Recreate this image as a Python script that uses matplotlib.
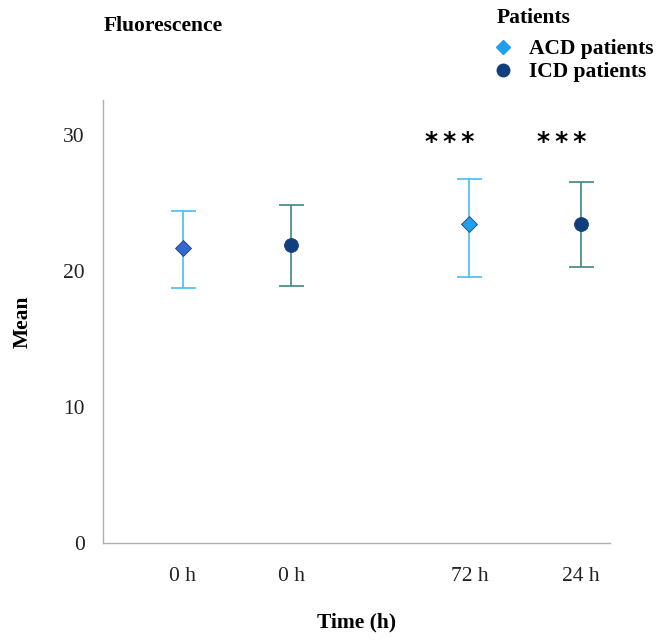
"""Fluorescence means with error bars for ACD and ICD patients."""

import matplotlib
matplotlib.use("Agg")
import matplotlib.pyplot as plt
from matplotlib.lines import Line2D

plt.rcParams["font.family"] = ["Liberation Serif", "DejaVu Serif"]

# Data
time_labels = ["0 h", "0 h", "72 h", "24 h"]
x_pos = [1.0, 2.0, 3.65, 4.68]
groups = ["ACD", "ICD", "ACD", "ICD"]
means = [21.7, 21.9, 23.5, 23.5]
upper = [24.4, 24.9, 26.8, 26.6]
lower = [18.8, 18.9, 19.6, 20.3]
stars = ["", "", "*\u2009*\u2009*", "*\u2009*\u2009*"]

acd_line = "#45bdf0"
icd_line = "#3e8583"
marker_faces = ["#3468cc", "#0f3f7c", "#1ea0ea", "#0f3f7c"]
fs = 15.5

fig = plt.figure(figsize=(6.67, 6.41), dpi=100)
ax = fig.add_axes([0.1544, 0.1529, 0.7601, 0.6911])

for x, g, m, u, lo, face, s in zip(x_pos, groups, means, upper, lower, marker_faces, stars):
    line_col = acd_line if g == "ACD" else icd_line
    marker = "D" if g == "ACD" else "o"
    ms = 8 if g == "ACD" else 10
    ax.errorbar(x, m, yerr=[[m - lo], [u - m]], fmt="none", ecolor=line_col,
                elinewidth=1.2, capsize=9, capthick=1.2, zorder=2)
    ax.plot(x, m, marker=marker, ms=ms, mfc=face, mec="#1b3f80", mew=0.6,
            linestyle="none", zorder=3)
    if s:
        ax.text(x - 0.18, 29.5, s, ha="center", va="center", fontsize=18,
                fontweight="bold", fontfamily="DejaVu Sans")

ax.set_xlim(0.26, 4.95)
ax.set_ylim(0, 32.6)
ax.set_xticks(x_pos)
ax.set_xticklabels(time_labels, fontsize=fs)
ax.set_yticks([0, 10, 20, 30])
ax.tick_params(axis="both", length=0, labelsize=fs, colors="#222222")
ax.tick_params(axis="x", pad=17)
ax.tick_params(axis="y", pad=13)

for side in ["top", "right"]:
    ax.spines[side].set_visible(False)
for side in ["left", "bottom"]:
    ax.spines[side].set_color("#b0b0b0")
    ax.spines[side].set_linewidth(1.0)

ax.set_xlabel("Time (h)", fontsize=fs, fontweight="bold", labelpad=19)
ax.set_ylabel("Mean", fontsize=fs, fontweight="bold", labelpad=22)

fig.text(104 / 667, 1 - 26 / 641, "Fluorescence", fontsize=fs, fontweight="bold",
         va="center", ha="left")
fig.text(497 / 667, 1 - 18 / 641, "Patients", fontsize=fs, fontweight="bold",
         va="center", ha="left")

handles = [
    Line2D([], [], marker="D", ms=7, mfc="#1ea0ea", mec="#1ea0ea", linestyle="none"),
    Line2D([], [], marker="o", ms=9, mfc="#0f3f7c", mec="#0f3f7c", linestyle="none"),
]
leg = fig.legend(handles, ["ACD patients", "ICD patients"], loc="upper left",
                 bbox_to_anchor=(479 / 667, 1 - 24 / 641), frameon=False,
                 handletextpad=0.8, handlelength=0.8, labelspacing=0.15,
                 borderpad=0.2, prop={"size": fs, "weight": "bold"})

fig.savefig("out.png", dpi=100)
